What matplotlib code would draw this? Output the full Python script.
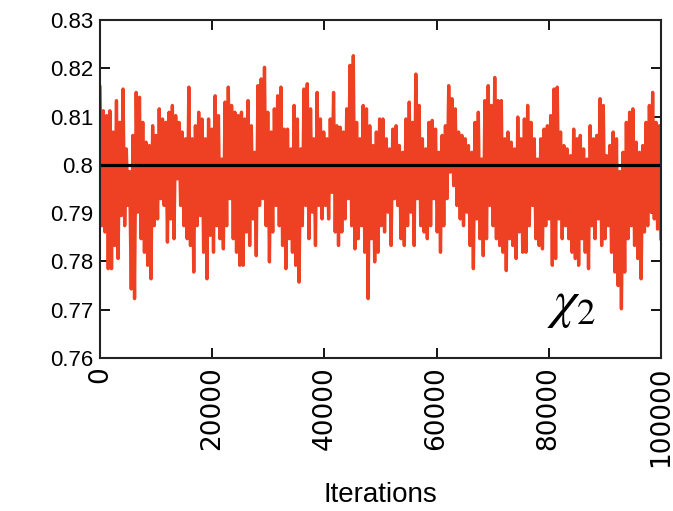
import numpy as np
import matplotlib
matplotlib.use('Agg')
import matplotlib.pyplot as plt

# Valeurs : maxima et minima locaux, de gauche à droite
haut = [0.8161, 0.8112, 0.8102, 0.8112, 0.8068, 0.8133, 0.8088, 0.8157, 0.8033, 0.7986,
        0.8061, 0.8150, 0.8140, 0.8088, 0.8047, 0.8040, 0.8081, 0.8061, 0.8116, 0.8095,
        0.8088, 0.8109, 0.8123, 0.8102, 0.8088, 0.8068, 0.8054, 0.8161, 0.8054, 0.8081,
        0.8109, 0.8095, 0.8054, 0.8095, 0.8074, 0.8143, 0.8102, 0.8012, 0.8130, 0.8161,
        0.8123, 0.8109, 0.8102,
        0.8109, 0.8095, 0.8133, 0.8081, 0.8026, 0.8164, 0.8178, 0.8202, 0.8109, 0.8068,
        0.8116, 0.8143, 0.8161, 0.8074, 0.8074, 0.8033, 0.8123, 0.8095, 0.8033, 0.8157,
        0.8168, 0.8116, 0.8054, 0.8150, 0.8095, 0.8068, 0.8054, 0.8095, 0.8150, 0.8081,
        0.8078, 0.8068, 0.8116, 0.8206, 0.8226, 0.8088, 0.8054, 0.8123, 0.8116, 0.8081,
        0.8040, 0.8068, 0.8095,
        0.8095, 0.8054, 0.8033, 0.8074, 0.8081, 0.8040, 0.8026, 0.8095, 0.8130, 0.8088,
        0.8188, 0.8123, 0.8054, 0.8033, 0.8088, 0.8092, 0.8074, 0.8026, 0.8061, 0.8081,
        0.8164, 0.8137, 0.8116, 0.8068, 0.8061, 0.8054, 0.8040, 0.8026, 0.8088, 0.8109,
        0.8012, 0.8133, 0.8164, 0.8123, 0.8181, 0.8133, 0.8133, 0.8054, 0.8068, 0.8047,
        0.8033, 0.8099, 0.8054,
        0.8095, 0.8123, 0.8088, 0.8054, 0.8012, 0.8054, 0.8074, 0.8081, 0.8102, 0.8157,
        0.8161, 0.8068, 0.8040, 0.8033, 0.8019, 0.8074, 0.8054, 0.8061, 0.8033, 0.8012,
        0.8081, 0.8054, 0.8061, 0.8137, 0.8123, 0.8019, 0.8040, 0.8068, 0.8054, 0.7986,
        0.8026, 0.8088, 0.8109, 0.8116, 0.8047, 0.8026, 0.8040, 0.8088, 0.8123, 0.8150,
        0.8088, 0.8081]

bas = [0.7874, 0.7861, 0.7785, 0.7785, 0.7833, 0.7806, 0.7895, 0.7874, 0.7916, 0.7743,
       0.7723, 0.7902, 0.7847, 0.7819, 0.7792, 0.7764, 0.7874, 0.7888, 0.7930, 0.7916,
       0.7840, 0.7888, 0.7847, 0.7971, 0.7916, 0.7874, 0.7847, 0.7833, 0.7778, 0.7874,
       0.7895, 0.7819, 0.7764, 0.7854, 0.7819, 0.7874, 0.7847, 0.7826, 0.7874, 0.7930,
       0.7847, 0.7819, 0.7792,
       0.7792, 0.7861, 0.7833, 0.7888, 0.7812, 0.7916, 0.7930, 0.7874, 0.7799, 0.7861,
       0.7916, 0.7874, 0.7833, 0.7785, 0.7847, 0.7819, 0.7792, 0.7757, 0.7874, 0.7916,
       0.7847, 0.7902, 0.7833, 0.7916, 0.7888, 0.7916, 0.7888, 0.7943, 0.7861, 0.7833,
       0.7861, 0.7888, 0.7930, 0.7874, 0.7826, 0.7847, 0.7874, 0.7819, 0.7723, 0.7847,
       0.7799, 0.7819, 0.7874,
       0.7861, 0.7902, 0.7833, 0.7930, 0.7916, 0.7847, 0.7833, 0.7874, 0.7902, 0.7833,
       0.7930, 0.7874, 0.7861, 0.7847, 0.7874, 0.7930, 0.7861, 0.7819, 0.7874, 0.7930,
       0.7985, 0.7957, 0.7916, 0.7888, 0.7874, 0.7902, 0.7833, 0.7785, 0.7888, 0.7847,
       0.7812, 0.7847, 0.7916, 0.7874, 0.7847, 0.7833, 0.7819, 0.7781, 0.7847, 0.7833,
       0.7806, 0.7861, 0.7819,
       0.7819, 0.7874, 0.7916, 0.7847, 0.7833, 0.7826, 0.7874, 0.7888, 0.7792, 0.7806,
       0.7888, 0.7847, 0.7874, 0.7847, 0.7819, 0.7806, 0.7792, 0.7847, 0.7819, 0.7785,
       0.7874, 0.7847, 0.7888, 0.7833, 0.7847, 0.7874, 0.7819, 0.7778, 0.7750, 0.7702,
       0.7778, 0.7847, 0.7874, 0.7833, 0.7806, 0.7764, 0.7861, 0.7874, 0.7902, 0.7888,
       0.7867, 0.7847]

valeur_vraie = 0.80
n_iter = 100000
yticks = [0.76, 0.77, 0.78, 0.79, 0.80, 0.81, 0.82, 0.83]
xticks = [0, 20000, 40000, 60000, 80000, 100000]

# Trace : on alterne maxima et minima
n = min(len(haut), len(bas))
trace = np.empty(2 * n)
trace[0::2] = haut[:n]
trace[1::2] = bas[:n]
iterations = np.linspace(0, n_iter, len(trace))

plt.rcParams['font.family'] = ['Liberation Sans', 'DejaVu Sans']
plt.rcParams['mathtext.fontset'] = 'stix'

fig = plt.figure(figsize=(6.73, 5.11), dpi=100)
ax = fig.add_axes([0.1486, 0.2994, 0.8334, 0.6615])

ax.plot(iterations, trace, color='#ee4123', lw=2.4, solid_joinstyle='round')
ax.axhline(valeur_vraie, color='black', lw=2.3)

ax.set_xlim(0, n_iter)
ax.set_ylim(0.76, 0.83)
ax.set_yticks(yticks)
ax.set_yticklabels([f'{v:g}' for v in yticks], fontsize=16)
ax.set_xticks(xticks)
ax.set_xticklabels([str(v) for v in xticks], rotation=90, fontsize=19,
                   family='DejaVu Sans')
ax.tick_params(direction='in', length=7, width=1.3, top=True, right=True)
ax.tick_params(axis='x', pad=6)
ax.tick_params(axis='y', pad=5)
for s in ax.spines.values():
    s.set_linewidth(1.5)
    s.set_color('#222222')

ax.set_xlabel('Iterations', fontsize=20, labelpad=11)
ax.text(0.797, 0.12, r'$\chi_2$', transform=ax.transAxes, fontsize=38,
        ha='left', va='baseline')

fig.savefig('out.png', dpi=100)
